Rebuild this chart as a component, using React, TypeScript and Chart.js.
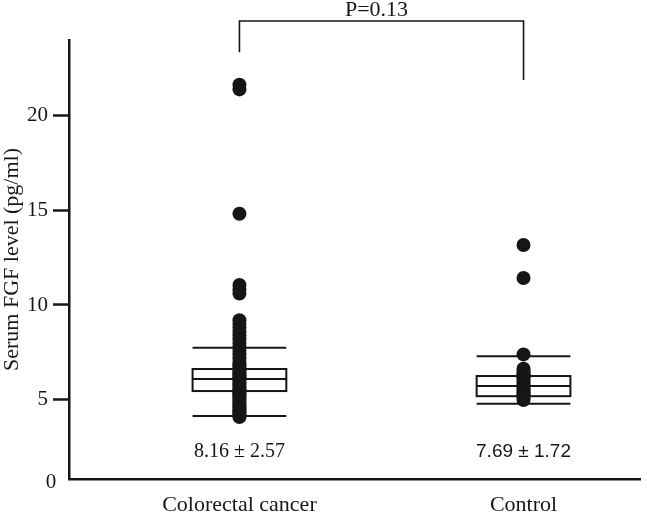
import React, { useEffect, useRef } from "react";
import { Chart, registerables } from "chart.js";

Chart.register(...registerables);

const categories = ["Colorectal cancer", "Control"];
const colorectalValues = [
  21.6, 21.35, 14.8, 11.05, 10.8, 10.6,
  9.2, 9.0, 8.8, 8.6, 8.4, 8.2, 8.0, 7.8, 7.6, 7.4, 7.2, 7.0, 6.9, 6.8, 6.7, 6.6,
  6.5, 6.4, 6.3, 6.2, 6.1, 6.0, 5.9, 5.8, 5.7, 5.6, 5.5, 5.4, 5.3, 5.2, 5.1, 5.0,
  4.9, 4.8, 4.7, 4.6, 4.5, 4.4, 4.3, 4.2, 4.1,
];
const controlValues = [
  13.16, 11.42, 7.4, 6.65, 6.5, 6.4, 6.3, 6.2, 6.1, 6.0, 5.9, 5.8, 5.7, 5.6,
  5.5, 5.4, 5.3, 5.2, 5.1, 5.0,
];
const whiskerLow = [4.15, 4.8];
const q1 = [5.47, 5.2];
const medians = [6.1, 5.74];
const q3 = [6.63, 6.26];
const whiskerHigh = [7.75, 7.3];
const meanSdLabels = ["8.16 ± 2.57", "7.69 ± 1.72"];
const pValueLabel = "P=0.13";
const yTickValues = [5, 10, 15, 20];
const yTitle = "Serum FGF level (pg/ml)";

const Y_MIN = 0.84;
const Y_MAX = 23.95;
const X_MIN = 0.4;
const X_MAX = 2.41;
const BOX_HALF = 0.165;
const INK = "#161616";
const SERIF = "'Liberation Serif', 'Times New Roman', serif";

const annotPlugin = {
  id: "boxAnnot",
  beforeDatasetsDraw(chart: any) {
    const { ctx, scales } = chart;
    const x = scales.x;
    const y = scales.y;
    ctx.save();
    ctx.strokeStyle = INK;
    ctx.lineWidth = 2;
    categories.forEach((_, i) => {
      const l = x.getPixelForValue(i + 1 - BOX_HALF);
      const r = x.getPixelForValue(i + 1 + BOX_HALF);
      const top = y.getPixelForValue(q3[i]);
      const bot = y.getPixelForValue(q1[i]);
      ctx.strokeRect(l, top, r - l, bot - top);
      [medians[i], whiskerLow[i], whiskerHigh[i]].forEach((v) => {
        const py = y.getPixelForValue(v);
        ctx.beginPath();
        ctx.moveTo(l, py);
        ctx.lineTo(r, py);
        ctx.stroke();
      });
    });
    ctx.restore();
  },
  afterDraw(chart: any) {
    const { ctx, scales, chartArea } = chart;
    const x = scales.x;
    const y = scales.y;
    ctx.save();
    // bracket
    const x1 = x.getPixelForValue(1);
    const x2 = x.getPixelForValue(2);
    const yTop = y.getPixelForValue(24.95);
    const yL = y.getPixelForValue(23.3);
    const yR = y.getPixelForValue(21.85);
    ctx.strokeStyle = INK;
    ctx.lineWidth = 1.6;
    ctx.beginPath();
    ctx.moveTo(x1, yL);
    ctx.lineTo(x1, yTop);
    ctx.lineTo(x2, yTop);
    ctx.lineTo(x2, yR);
    ctx.stroke();
    ctx.fillStyle = INK;
    ctx.font = `22px ${SERIF}`;
    ctx.textAlign = "center";
    ctx.textBaseline = "alphabetic";
    ctx.fillText(pValueLabel, (x1 + x2) / 2 - 5, yTop - 5);
    // mean ± sd labels
    const ty = y.getPixelForValue(2.25);
    ctx.textBaseline = "middle";
    ctx.font = `20px ${SERIF}`;
    ctx.fillText(meanSdLabels[0], x.getPixelForValue(1), ty);
    ctx.font = "19px 'Liberation Sans', Arial, sans-serif";
    ctx.fillText(meanSdLabels[1], x.getPixelForValue(2), ty);
    // zero label at axis origin
    ctx.font = `21px ${SERIF}`;
    ctx.fillText("0", chartArea.left - 18, chartArea.bottom + 3);
    ctx.restore();
  },
};

export default function App() {
  const ref = useRef<HTMLCanvasElement | null>(null);
  useEffect(() => {
    if (!ref.current) return;
    const toPts = (vals: number[], cx: number) => vals.map((v) => ({ x: cx, y: v }));
    const chart = new Chart(ref.current, {
      type: "scatter",
      data: {
        datasets: [
          {
            label: categories[0],
            data: toPts(colorectalValues, 1),
            backgroundColor: INK,
            borderWidth: 0,
            pointRadius: 7,
          },
          {
            label: categories[1],
            data: toPts(controlValues, 2),
            backgroundColor: INK,
            borderWidth: 0,
            pointRadius: 7,
          },
        ],
      },
      options: {
        responsive: false,
        animation: false,
        devicePixelRatio: 1,
        layout: { padding: { top: 40, left: 0, right: 0, bottom: 0 } },
        plugins: {
          legend: { display: false },
          tooltip: { enabled: false },
        },
        scales: {
          x: {
            type: "linear",
            min: X_MIN,
            max: X_MAX,
            afterBuildTicks: (s: any) => {
              s.ticks = categories.map((_, i) => ({ value: i + 1 }));
            },
            afterFit: (s: any) => {
              s.height = 33;
            },
            grid: { display: false, drawTicks: false },
            border: { display: true, color: INK, width: 2.5 },
            ticks: {
              color: INK,
              font: { family: SERIF, size: 22 },
              padding: 13,
              maxRotation: 0,
              autoSkip: false,
              callback: (v: any) => categories[Math.round(Number(v)) - 1] ?? "",
            },
          },
          y: {
            type: "linear",
            min: Y_MIN,
            max: Y_MAX,
            afterBuildTicks: (s: any) => {
              s.ticks = yTickValues.map((v) => ({ value: v }));
            },
            afterFit: (s: any) => {
              s.width = 69;
            },
            grid: {
              display: true,
              drawOnChartArea: false,
              drawTicks: true,
              tickLength: 16,
              tickWidth: 2.5,
              tickColor: INK,
            },
            border: { display: true, color: INK, width: 2.5 },
            ticks: {
              color: INK,
              font: { family: SERIF, size: 21 },
              padding: 5,
              callback: (v: any) => String(v),
            },
            title: {
              display: true,
              text: yTitle,
              color: INK,
              font: { family: SERIF, size: 22 },
              padding: { top: -1, bottom: 0 },
            },
          },
        },
      },
      plugins: [annotPlugin],
    });
    return () => chart.destroy();
  }, []);
  return (
    <div style={{ position: "fixed", left: 0, top: 0, width: 647, height: 512, background: "#fff" }}>
      <canvas ref={ref} width={647} height={512} style={{ display: "block" }} />
    </div>
  );
}
